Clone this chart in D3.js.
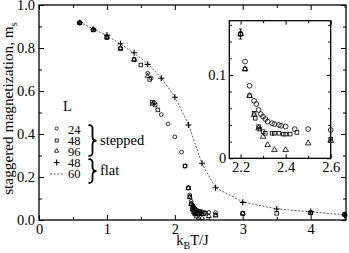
<!DOCTYPE html>
<html>
<head>
<meta charset="utf-8">
<script src="https://cdn.jsdelivr.net/npm/d3@7"></script>
<style>
  body { margin: 0; background: #fff; }
</style>
</head>
<body>
<div class="chart"></div>
<script>
// stepped surface, L = 24 (circles)
var t24 = [0.6, 0.8, 1.0, 1.2, 1.4, 1.6, 1.65, 1.7, 1.8, 1.9, 2.0, 2.1, 2.15, 2.2, 2.22, 2.24, 2.26, 2.27, 2.28, 2.29, 2.30, 2.31, 2.32, 2.34, 2.35, 2.37, 2.38, 2.40, 2.44, 2.5, 2.6, 3.0, 4.0, 4.5];
var m24 = [0.918, 0.886, 0.852, 0.800, 0.748, 0.682, 0.660, 0.545, 0.490, 0.447, 0.387, 0.316, 0.251, 0.149, 0.116, 0.087, 0.069, 0.065, 0.058, 0.053, 0.050, 0.047, 0.044, 0.042, 0.041, 0.040, 0.039, 0.038, 0.035, 0.035, 0.034, 0.031, 0.034, 0.026];
// stepped surface, L = 48 (squares)
var t48 = [0.6, 0.8, 1.0, 1.2, 1.4, 1.5, 1.63, 1.67, 1.71, 1.75, 2.15, 2.2, 2.22, 2.24, 2.26, 2.265, 2.28, 2.285, 2.30, 2.31, 2.34, 2.35, 2.37, 2.39, 2.40, 2.42, 2.45, 2.6, 3.0, 3.5, 4.0, 4.5];
var m48 = [0.917, 0.884, 0.848, 0.796, 0.745, 0.721, 0.654, 0.548, 0.535, 0.512, 0.251, 0.149, 0.107, 0.075, 0.054, 0.048, 0.038, 0.035, 0.032, 0.030, 0.030, 0.030, 0.030, 0.029, 0.029, 0.029, 0.031, 0.023, 0.031, 0.031, 0.034, 0.026];
// stepped surface, L = 96 (triangles)
var t96 = [0.6, 0.8, 1.0, 1.2, 1.4, 1.6, 1.67, 2.2, 2.22, 2.24, 2.26, 2.28, 2.30, 2.32, 2.35, 2.40, 2.50, 2.60, 3.0, 4.0, 4.5];
var m96 = [0.917, 0.885, 0.850, 0.800, 0.746, 0.670, 0.540, 0.149, 0.107, 0.075, 0.052, 0.036, 0.026, 0.016, 0.010, 0.010, 0.018, 0.021, 0.030, 0.033, 0.025];
// flat surface, L = 48 (plus)
var tFlat48 = [0.6, 0.8, 1.0, 1.2, 1.4, 1.6, 1.8, 2.0, 2.2, 2.4, 2.6, 3.0, 3.5, 4.0, 4.5];
var mFlat48 = [0.918, 0.887, 0.860, 0.820, 0.778, 0.724, 0.659, 0.571, 0.442, 0.264, 0.150, 0.082, 0.051, 0.039, 0.023];
// flat surface, L = 60 (dashed line)
var tFlat60 = [0.6, 0.8, 1.0, 1.2, 1.4, 1.6, 1.8, 2.0, 2.2, 2.4, 2.6, 3.0, 3.5, 4.0, 4.5];
var mFlat60 = [0.920, 0.889, 0.858, 0.818, 0.776, 0.727, 0.662, 0.573, 0.445, 0.262, 0.150, 0.084, 0.052, 0.038, 0.024];
// error bar on the T = 2.2 point of the inset
var errT = [2.2];
var errLo = [0.143];
var errHi = [0.155];

var xTicks = [0, 1, 2, 3, 4];
var yTicks = [0, 0.2, 0.4, 0.6, 0.8, 1.0];
var insetXTicks = [2.2, 2.4, 2.6];
var insetYTicks = [0, 0.1];

var legendL = ["24", "48", "96", "48", "60"];

var SERIF = "Liberation Serif";

var zip = function (t, m) { return t.map(function (v, i) { return { t: v, m: m[i] }; }); };

var svg = d3.select("div.chart").append("svg")
    .attr("width", 349).attr("height", 253);

var x = d3.scaleLinear().domain([0, 4.52]).range([39, 346]);
var y = d3.scaleLinear().domain([0, 1]).range([220, 5]);

var xi = d3.scaleLinear().domain([2.15, 2.6]).range([229.3, 330.7]);
var yi = d3.scaleLinear().domain([0, 0.165]).range([158.3, 20.7]);

function minorVals(scale, step) {
    var d = scale.domain(), out = [];
    for (var v = Math.ceil(d[0] / step - 1e-9) * step; v <= d[1] + 1e-9; v += step) out.push(+v.toFixed(4));
    return out;
}

// draws a boxed frame with inward ticks on all four sides
function frame(g, xs, ys, o) {
    var xr = xs.range(), yr = ys.range();
    var sides = [
        { ax: d3.axisBottom, s: xs, tr: "translate(0," + yr[0] + ")", ticks: o.xTicks, minor: o.xMinor, lab: true, fmt: o.xFmt },
        { ax: d3.axisTop, s: xs, tr: "translate(0," + yr[1] + ")", ticks: o.xTicks, minor: o.xMinor },
        { ax: d3.axisLeft, s: ys, tr: "translate(" + xr[0] + ",0)", ticks: o.yTicks, minor: o.yMinor, lab: true, fmt: o.yFmt },
        { ax: d3.axisRight, s: ys, tr: "translate(" + xr[1] + ",0)", ticks: o.yTicks, minor: o.yMinor }
    ];
    sides.forEach(function (sd) {
        var minor = sd.minor.filter(function (v) { return sd.ticks.indexOf(v) < 0; });
        g.append("g").attr("transform", sd.tr)
            .call(sd.ax(sd.s).tickValues(minor).tickSizeInner(-o.minorLen).tickSizeOuter(0).tickFormat(""))
            .call(function (a) { a.select(".domain").remove(); });
        var major = g.append("g").attr("transform", sd.tr)
            .call(sd.ax(sd.s).tickValues(sd.ticks).tickSizeInner(-o.majorLen).tickSizeOuter(0)
                .tickPadding(sd.lab ? o.pad : 0)
                .tickFormat(sd.lab ? sd.fmt : ""));
        major.select(".domain").remove();
        major.selectAll("text").attr("font-family", SERIF).attr("font-size", 14.5).attr("fill", "#000");
    });
    g.selectAll(".tick line").attr("stroke", "#000").attr("stroke-width", 1);
    g.append("rect")
        .attr("x", xr[0]).attr("y", yr[1])
        .attr("width", xr[1] - xr[0]).attr("height", yr[0] - yr[1])
        .attr("fill", "none").attr("stroke", "#000").attr("stroke-width", 1.3);
}

function drawMarks(g, xs, ys, clip) {
    var inside = function (d) {
        if (!clip) return true;
        return d.t >= xs.domain()[0] - 1e-9 && d.t <= xs.domain()[1] + 1e-9 && d.m <= ys.domain()[1];
    };
    var circ = zip(t24, m24).filter(inside);
    var sq = zip(t48, m48).filter(inside);
    var tri = zip(t96, m96).filter(inside);

    g.selectAll(null).data(tri).enter().append("path")
        .attr("d", d3.symbol().type(d3.symbolTriangle).size(clip ? 14 : 10))
        .attr("transform", function (d) { return "translate(" + xs(d.t) + "," + ys(d.m) + ")"; })
        .attr("fill", "none").attr("stroke", "#000").attr("stroke-width", 0.8);
    g.selectAll(null).data(sq).enter().append("rect")
        .attr("x", function (d) { return xs(d.t) - 1.8; })
        .attr("y", function (d) { return ys(d.m) - 1.8; })
        .attr("width", 3.6).attr("height", 3.6)
        .attr("fill", "none").attr("stroke", "#000").attr("stroke-width", 0.8);
    g.selectAll(null).data(circ).enter().append("circle")
        .attr("cx", function (d) { return xs(d.t); })
        .attr("cy", function (d) { return ys(d.m); })
        .attr("r", clip ? 2.4 : 1.9)
        .attr("fill", "none").attr("stroke", "#000").attr("stroke-width", 0.8);
}

// ---- main plot ----
var main = svg.append("g");

main.append("path")
    .datum(zip(tFlat60, mFlat60))
    .attr("fill", "none").attr("stroke", "#333").attr("stroke-width", 0.8)
    .attr("stroke-dasharray", "2,1.6")
    .attr("d", d3.line().x(function (d) { return x(d.t); }).y(function (d) { return y(d.m); }));

drawMarks(main, x, y, false);

main.selectAll(null).data(zip(tFlat48, mFlat48)).enter().append("path")
    .attr("d", function (d) {
        var cx = x(d.t), cy = y(d.m), a = 3;
        return "M" + (cx - a) + "," + cy + "H" + (cx + a) + "M" + cx + "," + (cy - a) + "V" + (cy + a);
    })
    .attr("stroke", "#000").attr("stroke-width", 1.1);

frame(main, x, y, {
    xTicks: xTicks, yTicks: yTicks,
    xMinor: minorVals(x, 0.5), yMinor: minorVals(y, 0.1),
    majorLen: 5, minorLen: 3, pad: 4,
    xFmt: d3.format("d"), yFmt: d3.format(".1f")
});

// axis titles
var xt = svg.append("text").attr("x", 192.5).attr("y", 245).attr("text-anchor", "middle")
    .attr("font-family", SERIF).attr("font-size", 14.5);
xt.append("tspan").text("k");
xt.append("tspan").attr("dy", 4).attr("font-size", 10).text("B");
xt.append("tspan").attr("dy", -4).text("T/J");

var yt = svg.append("text").attr("transform", "translate(13,108.5) rotate(-90)")
    .attr("text-anchor", "middle").attr("font-family", SERIF).attr("font-size", 15.3);
yt.append("tspan").text("staggered magnetization, m");
yt.append("tspan").attr("dy", 4).attr("font-size", 10.5).text("s");

// ---- legend ----
var leg = svg.append("g");
leg.append("text").attr("x", 63).attr("y", 111).attr("font-family", SERIF).attr("font-size", 14.5).text("L");
var legY = [129.5, 140.5, 151.5, 162.5, 174];
leg.selectAll(null).data(legendL).enter().append("text")
    .attr("x", 68).attr("y", function (d, i) { return legY[i] + 4; })
    .attr("font-family", SERIF).attr("font-size", 12.5).text(function (d) { return d; });
leg.append("circle").attr("cx", 56.7).attr("cy", legY[0] - 1).attr("r", 1.6)
    .attr("fill", "none").attr("stroke", "#000").attr("stroke-width", 0.8);
leg.append("rect").attr("x", 55.2).attr("y", legY[1] - 1.5).attr("width", 3).attr("height", 3)
    .attr("fill", "none").attr("stroke", "#000").attr("stroke-width", 0.8);
leg.append("path").attr("d", d3.symbol().type(d3.symbolTriangle).size(8))
    .attr("transform", "translate(56.7," + (legY[2] - 0.5) + ")")
    .attr("fill", "none").attr("stroke", "#000").attr("stroke-width", 0.8);
leg.append("path").attr("d", "M53.7," + legY[3] + "H59.7M56.7," + (legY[3] - 3) + "V" + (legY[3] + 3))
    .attr("stroke", "#000").attr("stroke-width", 1.1);
leg.append("line").attr("x1", 50).attr("x2", 63.5).attr("y1", legY[4]).attr("y2", legY[4])
    .attr("stroke", "#333").attr("stroke-width", 0.8).attr("stroke-dasharray", "2,1.6");

function brace(x0, y0, y1, w) {
    var ym = (y0 + y1) / 2;
    return "M" + x0 + "," + y0 +
        "Q" + (x0 + w * 0.6) + "," + y0 + " " + (x0 + w * 0.5) + "," + (y0 + 5) +
        "L" + (x0 + w * 0.5) + "," + (ym - 4) +
        "Q" + (x0 + w * 0.5) + "," + ym + " " + (x0 + w) + "," + ym +
        "Q" + (x0 + w * 0.5) + "," + ym + " " + (x0 + w * 0.5) + "," + (ym + 4) +
        "L" + (x0 + w * 0.5) + "," + (y1 - 5) +
        "Q" + (x0 + w * 0.6) + "," + y1 + " " + x0 + "," + y1;
}
leg.append("path").attr("d", brace(88.5, 125, 156, 8)).attr("fill", "none").attr("stroke", "#000").attr("stroke-width", 1.8);
leg.append("path").attr("d", brace(88.5, 159, 183, 8)).attr("fill", "none").attr("stroke", "#000").attr("stroke-width", 1.8);
leg.append("text").attr("x", 100).attr("y", 145).attr("font-family", SERIF).attr("font-size", 14.5).text("stepped");
leg.append("text").attr("x", 100).attr("y", 175).attr("font-family", SERIF).attr("font-size", 14.5).text("flat");

// ---- inset ----
var inset = svg.append("g");
inset.append("rect")
    .attr("x", xi.range()[0]).attr("y", yi.range()[1])
    .attr("width", xi.range()[1] - xi.range()[0]).attr("height", yi.range()[0] - yi.range()[1])
    .attr("fill", "#fff");

inset.selectAll(null).data(errT).enter().append("path")
    .attr("d", function (d, i) {
        var cx = xi(d);
        return "M" + cx + "," + yi(errLo[i]) + "V" + yi(errHi[i]) +
            "M" + (cx - 1.5) + "," + yi(errLo[i]) + "H" + (cx + 1.5) +
            "M" + (cx - 1.5) + "," + yi(errHi[i]) + "H" + (cx + 1.5);
    })
    .attr("stroke", "#000").attr("stroke-width", 0.9);

drawMarks(inset, xi, yi, true);

frame(inset, xi, yi, {
    xTicks: insetXTicks, yTicks: insetYTicks,
    xMinor: minorVals(xi, 0.1), yMinor: minorVals(yi, 0.02),
    majorLen: 4, minorLen: 2.5, pad: 3,
    xFmt: d3.format(".1f"), yFmt: function (d) { return d === 0 ? "0" : d3.format(".1f")(d); }
});
</script>
</body>
</html>
